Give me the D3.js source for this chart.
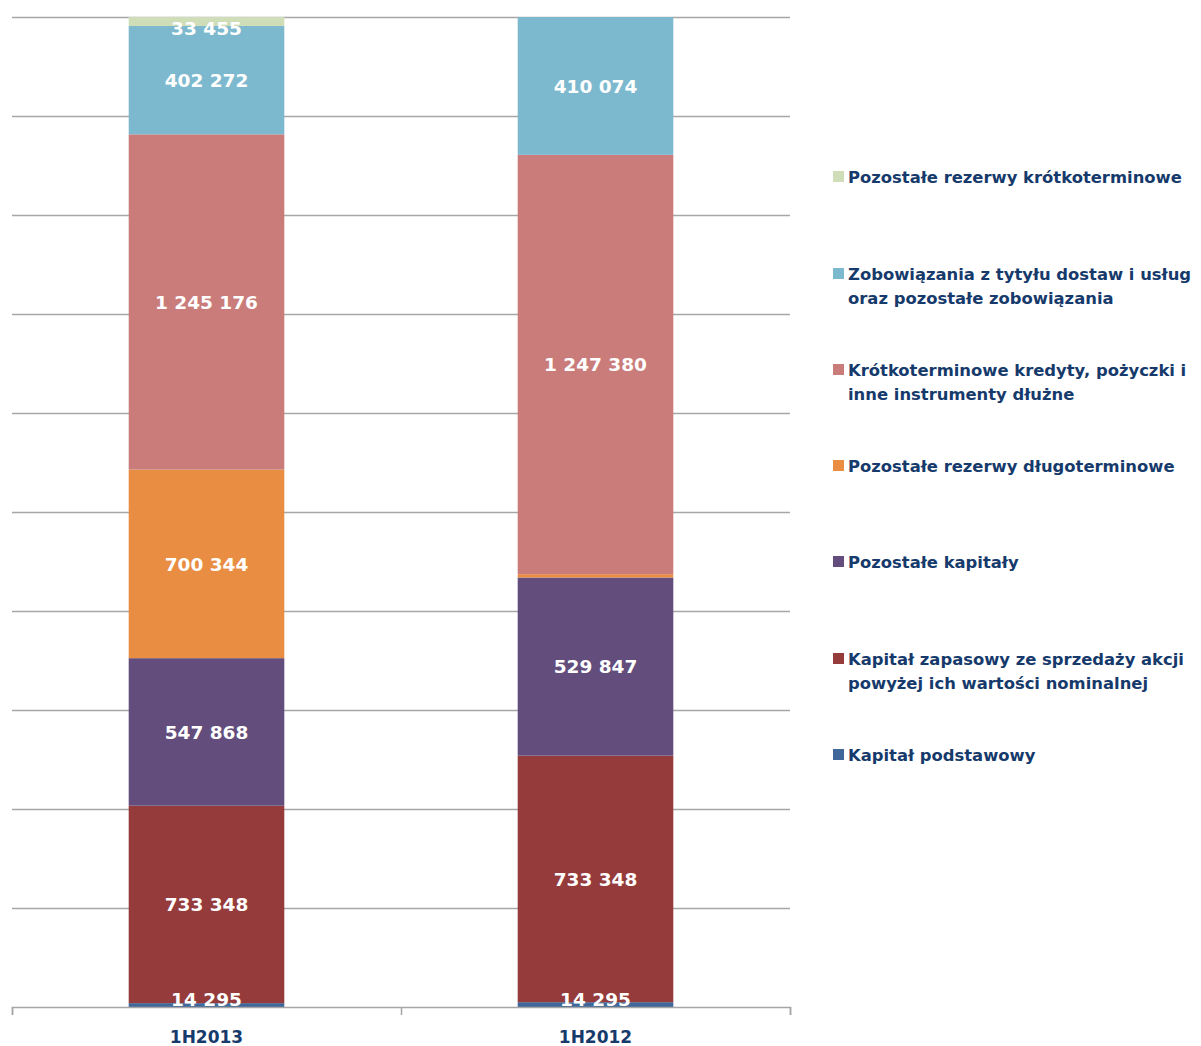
<!DOCTYPE html>
<meta charset="utf-8">
<style>
  body { margin: 0; background: #fff; }
  text { font-family: "DejaVu Sans", sans-serif; font-weight: bold; }
</style>
<body>
<script src="https://cdn.jsdelivr.net/npm/d3@7"></script>
<script>

var width = 1201,
    height = 1046;

// data (thousand PLN), stacked bottom -> top
var periods = ["1H2013", "1H2012"];
var seriesNames = [
  "Kapitał podstawowy",
  "Kapitał zapasowy ze sprzedaży akcji powyżej ich wartości nominalnej",
  "Pozostałe kapitały",
  "Pozostałe rezerwy długoterminowe",
  "Krótkoterminowe kredyty, pożyczki i inne instrumenty dłużne",
  "Zobowiązania z tytyłu dostaw i usług oraz pozostałe zobowiązania",
  "Pozostałe rezerwy krótkoterminowe"
];
var legendLines = [
  ["Kapitał podstawowy"],
  ["Kapitał zapasowy ze sprzedaży akcji", "powyżej ich wartości nominalnej"],
  ["Pozostałe kapitały"],
  ["Pozostałe rezerwy długoterminowe"],
  ["Krótkoterminowe kredyty, pożyczki i", "inne instrumenty dłużne"],
  ["Zobowiązania z tytyłu dostaw i usług", "oraz pozostałe zobowiązania"],
  ["Pozostałe rezerwy krótkoterminowe"]
];
var values1H2013 = [14295, 733348, 547868, 700344, 1245176, 402272, 33455];
var values1H2012 = [14295, 733348, 529847, 10000, 1247380, 410074, 0];
var showLabel1H2012 = [true, true, true, false, true, true, false];
var colors = ["#3F679A", "#953B3B", "#624D7C", "#E88D42", "#C97C7A", "#7DB9CE", "#CFDDB9"];

var svg = d3.select("body").append("svg")
    .attr("width", width)
    .attr("height", height);

var margin = {left: 12, right: 411, top: 17, bottom: 39};
var plotW = width - margin.left - margin.right,
    plotH = height - margin.top - margin.bottom;

var g = svg.append("g").attr("transform", "translate(" + margin.left + "," + margin.top + ")");

var rows = periods.map(function(p, i) {
  var vals = i == 0 ? values1H2013 : values1H2012;
  var total = d3.sum(vals);
  var r = {period: p, idx: i};
  vals.forEach(function(v, k) { r["s" + k] = v / total; r["v" + k] = v; });
  return r;
});

var keys = seriesNames.map(function(d, k) { return "s" + k; });
var stack = d3.stack().keys(keys)(rows);

var x = d3.scaleBand().domain(periods).range([0, plotW]).paddingInner(0.6).paddingOuter(0.3);
var y = d3.scaleLinear().domain([0, 1]).range([plotH, 0]);

// gridlines
g.selectAll(".grid")
  .data(d3.range(0.1, 1.01, 0.1))
  .enter().append("line")
    .attr("x1", 0).attr("x2", plotW)
    .attr("y1", function(d) { return Math.round(y(d)) + 0.5; })
    .attr("y2", function(d) { return Math.round(y(d)) + 0.5; })
    .attr("stroke", "#A6A6A6").attr("stroke-width", 1.5);

// bars
var layers = g.selectAll(".layer")
  .data(stack)
  .enter().append("g")
    .attr("fill", function(d, k) { return colors[k]; });

layers.selectAll("rect")
  .data(function(d) { return d; })
  .enter().append("rect")
    .attr("x", function(d) { return x(d.data.period); })
    .attr("width", x.bandwidth())
    .attr("y", function(d) { return y(d[1]); })
    .attr("height", function(d) { return y(d[0]) - y(d[1]); });

// axis
var xAxis = g.append("g")
    .attr("transform", "translate(0," + plotH + ")")
    .call(d3.axisBottom(d3.scalePoint().domain([0, 1, 2]).range([0, plotW])).tickFormat("").tickSize(8));
xAxis.select(".domain").attr("stroke", "#A6A6A6").attr("stroke-width", 1.5);
xAxis.selectAll(".tick line").attr("stroke", "#A6A6A6").attr("stroke-width", 1.5);

g.selectAll(".cat")
  .data(periods)
  .enter().append("text")
    .attr("x", function(d) { return x(d) + x.bandwidth() / 2; })
    .attr("y", plotH + 36)
    .attr("text-anchor", "middle")
    .attr("fill", "#163A6B")
    .attr("font-size", 17)
    .text(function(d) { return d; });

// value labels
var fmt = function(v) { return d3.format(",")(v).replace(/,/g, " "); };
stack.forEach(function(layer, k) {
  layer.forEach(function(d) {
    var v = d.data["v" + k];
    if (d.data.idx == 1 && !showLabel1H2012[k]) return;
    var cy = (y(d[0]) + y(d[1])) / 2;
    cy = Math.max(11, Math.min(plotH - 8, cy));
    g.append("text")
      .attr("x", x(d.data.period) + x.bandwidth() / 2)
      .attr("y", cy)
      .attr("dy", "0.36em")
      .attr("text-anchor", "middle")
      .attr("fill", "#fff")
      .attr("font-size", 18.5)
      .text(fmt(v));
  });
});

// legend (top item = last series)
var legend = svg.append("g").attr("transform", "translate(833,0)");
var legendY = [183, 280, 376, 472, 568, 665, 761];
var order = d3.range(seriesNames.length).reverse();
order.forEach(function(k, i) {
  var item = legend.append("g").attr("transform", "translate(0," + legendY[i] + ")");
  item.append("rect").attr("x", 0).attr("y", -12).attr("width", 11).attr("height", 11).attr("fill", colors[k]);
  legendLines[k].forEach(function(line, j) {
    item.append("text")
      .attr("x", 15).attr("y", j * 24)
      .attr("fill", "#163A6B")
      .attr("font-size", 16.4)
      .text(line);
  });
});

</script>
</body>
